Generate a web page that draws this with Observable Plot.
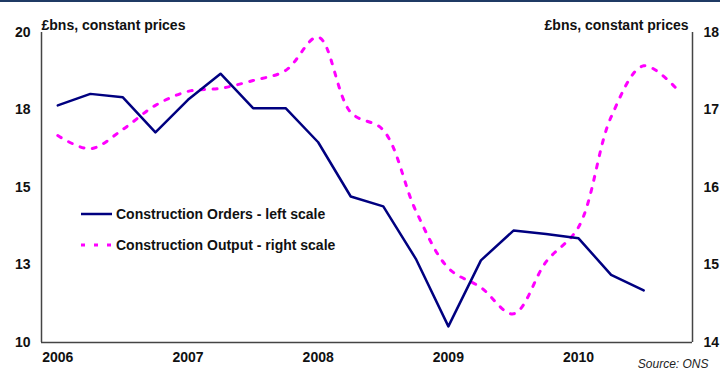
<!DOCTYPE html>
<html><head><meta charset="utf-8">
<script src="https://cdn.jsdelivr.net/npm/d3@7"></script>
<script src="https://cdn.jsdelivr.net/npm/@observablehq/plot@0.6"></script>
<style>
body{margin:0;background:#fff;font-family:"Liberation Sans",Arial,sans-serif;}
#wrap{position:relative;width:720px;height:372px;overflow:hidden;background:#fff;}
#topbar{position:absolute;left:0;top:0;width:720px;height:2px;background:#1f3a64;}
.leg{position:absolute;left:81px;height:16px;font:bold 14px "Liberation Sans",Arial,sans-serif;color:#111;display:flex;align-items:center;white-space:nowrap;}
.leg svg{margin-right:4px;}
</style>
</head><body>
<div id="wrap"><div id="topbar"></div></div>
<script>
const quarters = [2006,2006.25,2006.5,2006.75,2007,2007.25,2007.5,2007.75,2008,2008.25,2008.5,2008.75,2009,2009.25,2009.5,2009.75,2010,2010.25,2010.5,2010.75];
const years = [2006,2007,2008,2009,2010];
const orders = [17.65,18.02,17.91,16.78,17.83,18.67,17.56,17.56,16.46,14.71,14.39,12.70,10.52,12.65,13.61,13.50,13.36,12.18,11.68];
const output = [16.67,16.50,16.75,17.06,17.24,17.28,17.38,17.51,17.94,16.97,16.74,15.70,14.96,14.71,14.37,15.04,15.49,16.91,17.57,17.28];
const leftTicks = [10,12.5,15,17.5,20];
const leftTickLabels = ["10","13","15","18","20"];
const rightTicks = [14,15,16,17,18];
const unitLabel = "£bns, constant prices";
const seriesNames = ["Construction Orders - left scale","Construction Output - right scale"];
const sourceText = "Source: ONS";

const toLeft = v => 10 + (v - rightTicks[0]) * (leftTicks[4]-leftTicks[0]) / (rightTicks[4]-rightTicks[0]);
const ordersData = orders.map((v,i)=>({x:quarters[i], y:v}));
const outputData = output.map((v,i)=>({x:quarters[i], y:toLeft(v)}));
const xDom = [quarters[0]-0.125, quarters[quarters.length-1]+0.125];
const font = '"Liberation Sans", Arial, sans-serif';

const chart = Plot.plot({
  width:720, height:372, marginLeft:41, marginRight:28, marginTop:32, marginBottom:30,
  x:{domain:xDom},
  y:{domain:[leftTicks[0], leftTicks[4]]},
  style:{fontFamily:font, fontSize:"14px", fontWeight:"bold", color:"#111", background:"transparent"},
  marks:[
    Plot.axisY({anchor:"left", ticks:leftTicks, tickFormat:d=>leftTickLabels[leftTicks.indexOf(d)], tickSize:0, tickPadding:11, label:null}),
    Plot.axisY({anchor:"right", ticks:leftTicks, tickFormat:d=>String(rightTicks[leftTicks.indexOf(d)]), tickSize:0, tickPadding:11, label:null}),
    Plot.axisX({ticks:years, tickFormat:d=>String(d), tickSize:0, tickPadding:10, label:null}),
    Plot.ruleX(xDom, {stroke:"#444", strokeWidth:1.5}),
    Plot.ruleY([leftTicks[0]], {stroke:"#444", strokeWidth:1.5}),
    Plot.line(outputData, {x:"x", y:"y", stroke:"#ff00ff", strokeWidth:3, strokeDasharray:"4,8.5", curve:"catmull-rom"}),
    Plot.line(ordersData, {x:"x", y:"y", stroke:"#000080", strokeWidth:2.5}),
    Plot.text([unitLabel], {frameAnchor:"top-left", dy:-12, textAnchor:"start", fill:"#111"}),
    Plot.text([unitLabel], {frameAnchor:"top-right", dx:-4, dy:-12, textAnchor:"end", fill:"#111"}),
    Plot.text([sourceText], {frameAnchor:"bottom-right", dx:16, dy:25, textAnchor:"end", fontStyle:"italic", fontWeight:"normal", fontSize:12, fill:"#222"})
  ]
});
const wrap = document.getElementById("wrap");
wrap.insertBefore(chart, wrap.firstChild);

const legStyles = [{stroke:"#000080", w:2.5, dash:null, top:206},{stroke:"#ff00ff", w:3, dash:"4,9", top:237}];
seriesNames.forEach((name,i)=>{
  const s = legStyles[i];
  const d = document.createElement("div");
  d.className = "leg";
  d.style.top = s.top + "px";
  d.innerHTML = `<svg width="31" height="6"><line x1="0" y1="3" x2="31" y2="3" stroke="${s.stroke}" stroke-width="${s.w}" ${s.dash?`stroke-dasharray="${s.dash}"`:""}/></svg><span>${name}</span>`;
  wrap.appendChild(d);
});
</script>
</body></html>
